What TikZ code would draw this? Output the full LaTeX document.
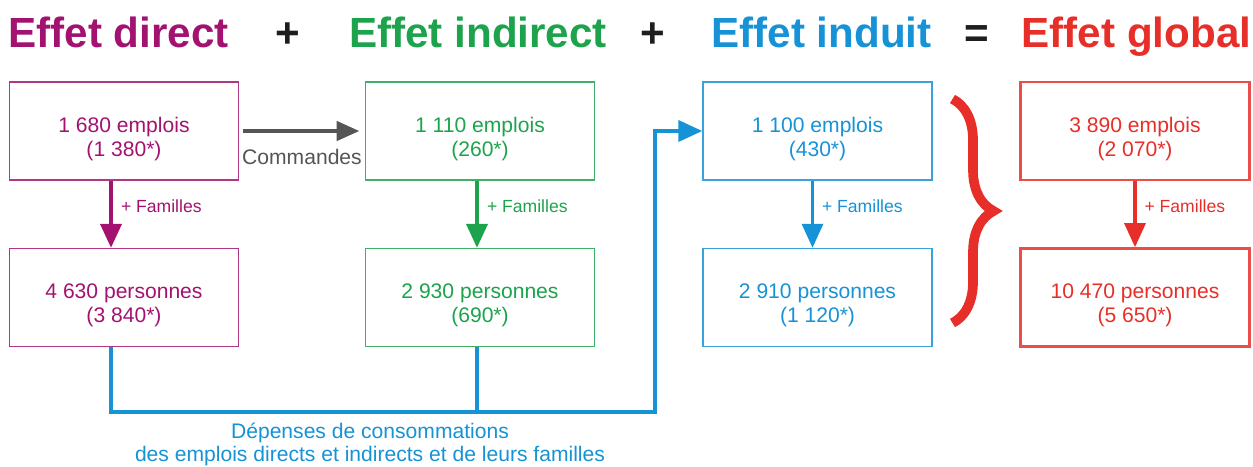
\documentclass[tikz,border=0pt]{standalone}
\usepackage{fontspec}
\setmainfont{Liberation Sans}
\definecolor{mypurple}{RGB}{163,18,112}
\definecolor{mygreen}{RGB}{28,163,76}
\definecolor{myblue}{RGB}{22,146,214}
\definecolor{myred}{RGB}{232,46,40}
\definecolor{mygray}{RGB}{85,85,85}
\definecolor{myblack}{RGB}{30,30,30}
\usetikzlibrary{positioning, arrows.meta, calc, decorations.pathreplacing}
\tikzset{
    titre/.style={font=\fontsize{24}{28}\selectfont\bfseries, anchor=base, inner sep=0pt},
    boite/.style={
           rectangle,
           draw=#1!85, line width=0.8pt,
           minimum width=4.58cm,
           minimum height=1.96cm,
           inner sep=0pt,
           },
    chiffre/.style={text=#1, font=\fontsize{12}{13.5}\selectfont, align=center, yshift=-0.16cm},
    famille/.style={draw=#1, line width=2.3pt, -{Triangle[width=0.42cm,length=0.48cm]}},
    famille fine/.style={draw=#1, line width=1.8pt, -{Triangle[width=0.42cm,length=0.48cm]}},
    fam/.style={text=#1, font=\fontsize{10}{12}\selectfont, inner sep=0pt, right=0.16cm, pos=0.38},
    commande/.style={draw=mygray, line width=2.7pt, shorten <=2pt, shorten >=3pt,
           -{Triangle[width=0.38cm,length=0.46cm]}},
    retour/.style={draw=myblue, line width=2.2pt},
    accolade/.style={decorate, decoration={brace, amplitude=0.82cm}, draw=myred, line width=5.5pt},
}
\newcommand{\emplois}[2]{#1 emplois\\(#2*)}
\newcommand{\personnes}[2]{#1 personnes\\(#2*)}

\begin{document}
\begin{tikzpicture}
      \useasboundingbox (0,0) rectangle (25.06,-9.32);
      % titres
      \node[titre, mypurple] (tdir)  at ( 2.37, -0.94) {Effet direct};
      \node[titre, myblack]  (plus1) at ( 5.76, -0.94) {+};
      \node[titre, mygreen]  (tind)  at ( 9.56, -0.94) {Effet indirect};
      \node[titre, myblack]  (plus2) at (13.06, -0.94) {+};
      \node[titre, myblue]   (tinu)  at (16.43, -0.94) {Effet induit};
      \node[titre, myblack]  (egal)  at (19.54, -0.94) {=};
      \node[titre, myred]    (tglo)  at (22.73, -0.94) {Effet global};
      % boites
      \node[boite=mypurple, label={[chiffre=mypurple]center:{\emplois{1~680}{1~380}}}]   (d1) at ( 2.48, -2.62) {};
      \node[boite=mypurple, label={[chiffre=mypurple]center:{\personnes{4~630}{3~840}}}] (d2) at ( 2.48, -5.95) {};
      \node[boite=mygreen,  label={[chiffre=mygreen]center:{\emplois{1~110}{260}}}]      (i1) at ( 9.60, -2.62) {};
      \node[boite=mygreen,  label={[chiffre=mygreen]center:{\personnes{2~930}{690}}}]    (i2) at ( 9.60, -5.95) {};
      \node[boite=myblue,   label={[chiffre=myblue]center:{\emplois{1~100}{430}}}]       (u1) at (16.35, -2.62) {};
      \node[boite=myblue,   label={[chiffre=myblue]center:{\personnes{2~910}{1~120}}}]   (u2) at (16.35, -5.95) {};
      \node[boite=myred, line width=1.5pt, label={[chiffre=myred]center:{\emplois{3~890}{2~070}}}]      (g1) at (22.70, -2.62) {};
      \node[boite=myred, line width=1.5pt, label={[chiffre=myred]center:{\personnes{10~470}{5~650}}}]   (g2) at (22.70, -5.95) {};
      % familles
      \draw[famille=mypurple] ([xshift=-0.26cm]d1.south) -- node[fam=mypurple] {+ Familles} ([xshift=-0.26cm]d2.north);
      \draw[famille=mygreen]  ([xshift=-0.06cm]i1.south) -- node[fam=mygreen] {+ Familles} ([xshift=-0.06cm]i2.north);
      \draw[famille fine=myblue] ([xshift=-0.1cm]u1.south) -- node[fam=myblue] {+ Familles} ([xshift=-0.1cm]u2.north);
      \draw[famille fine=myred]  (g1) -- node[fam=myred] {+ Familles} (g2);
      % commandes
      \draw[commande] (d1) -- node[below=0.31cm, inner sep=0pt, text=mygray, font=\fontsize{12}{14}\selectfont] (cmd) {Commandes} (i1);
      % depenses des familles
      \coordinate (coin) at (13.1, -8.24);
      \draw[retour, -{Triangle[width=0.42cm,length=0.48cm]}] ([xshift=-0.26cm]d2.south) |- (coin) |- (u1.west);
      \draw[retour] ([xshift=-0.06cm]i2.south) -- ([xshift=-0.06cm]i2.south |- coin);
      \node[text=myblue, align=center, font=\fontsize{12}{13}\selectfont] (depenses) at (7.4, -8.88)
            {Dépenses de consommations\\des emplois directs et indirects et de leurs familles};
      % accolade
      \coordinate (haut) at (19.05, -1.98);
      \coordinate (bas)  at (19.05, -6.46);
      \draw[accolade] (haut) -- (bas);
\end{tikzpicture}
\end{document}
